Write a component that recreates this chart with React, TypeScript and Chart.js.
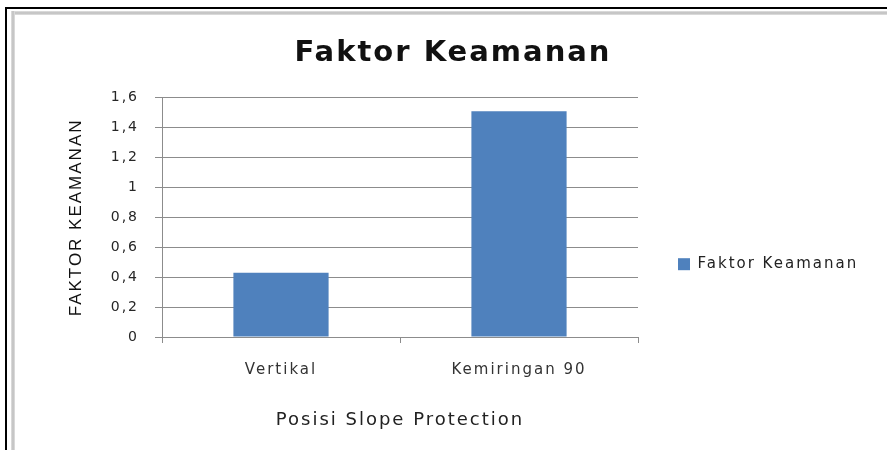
import React, { useEffect, useRef } from 'react';
import { Chart, registerables } from 'chart.js';

Chart.register(...registerables);

const chartTitle = 'Faktor Keamanan';
const seriesName = 'Faktor Keamanan';
const xTitle = 'Posisi Slope Protection';
const yTitle = 'FAKTOR KEAMANAN';
const categories = ['Vertikal', 'Kemiringan 90'];
const faktorKeamanan = [0.43, 1.51];
const yTicks = [0, 0.2, 0.4, 0.6, 0.8, 1, 1.2, 1.4, 1.6];

const SPACING = '2px';
const spacingPlugin = {
  id: 'letterSpacing',
  beforeInit(chart: any) { chart.ctx.letterSpacing = SPACING; },
  beforeUpdate(chart: any) { chart.ctx.letterSpacing = SPACING; },
  beforeLayout(chart: any) { chart.ctx.letterSpacing = SPACING; },
  afterLayout(chart: any) {
    // let the legend text run past the measured box instead of being clipped
    if (chart.legend) chart.legend.right = chart.width;
  },
  beforeDraw(chart: any) { chart.ctx.letterSpacing = SPACING; },
};

const GRID = '#8c8c8c';

export default function App() {
  const ref = useRef<HTMLCanvasElement | null>(null);

  useEffect(() => {
    if (!ref.current) return;
    const chart = new Chart(ref.current, {
      type: 'bar',
      data: {
        labels: categories,
        datasets: [
          {
            label: seriesName,
            data: faktorKeamanan,
            backgroundColor: '#4f81bd',
            borderWidth: 0,
            barPercentage: 0.5,
            categoryPercentage: 0.8,
          },
        ],
      },
      plugins: [spacingPlugin],
      options: {
        responsive: false,
        animation: false,
        layout: { padding: { left: 83, right: 64, top: 0, bottom: 0 } },
        plugins: {
          tooltip: { enabled: false },
          title: {
            display: true,
            text: chartTitle,
            color: '#111',
            font: { family: 'DejaVu Sans', size: 29, weight: 'bold' },
            padding: { top: 36, bottom: 27 },
          },
          legend: {
            display: true,
            position: 'right',
            align: 'center',
            title: { display: true, text: ' ', padding: 32, font: { size: 12 } },
            labels: {
              boxWidth: 12,
              boxHeight: 12,
              padding: 40,
              color: '#222',
              font: { family: 'DejaVu Sans', size: 15 },
            },
          },
        },
        scales: {
          x: {
            grid: { drawOnChartArea: false, drawTicks: true, tickLength: 6, color: GRID },
            border: { display: true, color: GRID },
            ticks: { padding: 18, color: '#333', font: { family: 'DejaVu Sans', size: 15 } },
            title: {
              display: true,
              text: xTitle,
              color: '#222',
              font: { family: 'DejaVu Sans', size: 18 },
              padding: { top: 30, bottom: 19 },
            },
            afterFit: (s: any) => { s.height = 113; },
          },
          y: {
            min: 0,
            max: 1.6,
            afterBuildTicks: (s: any) => { s.ticks = yTicks.map((v) => ({ value: v })); },
            ticks: {
              padding: 16,
              color: '#262626',
              font: { family: 'DejaVu Sans', size: 14 },
              callback: (v: any) => String(Math.round(Number(v) * 10) / 10).replace('.', ','),
            },
            grid: { color: GRID, tickLength: 7 },
            border: { color: GRID },
            title: {
              display: true,
              text: yTitle,
              color: '#111',
              font: { family: 'Liberation Sans', size: 17 },
              padding: { top: -17, bottom: 0 },
            },
            afterFit: (s: any) => { s.width = 79; },
          },
        },
      },
    } as any);
    return () => chart.destroy();
  }, []);

  return (
    <div style={{ position: 'absolute', left: 0, top: 0, width: 887, height: 450, background: '#fff', overflow: 'hidden' }}>
      <canvas ref={ref} width={887} height={450} style={{ display: 'block', width: 887, height: 450 }} />
      <div style={{ position: 'absolute', left: 5, top: 7, width: 882, height: 2, background: '#000' }} />
      <div style={{ position: 'absolute', left: 5, top: 7, width: 2, height: 443, background: '#000' }} />
      <div style={{ position: 'absolute', left: 11, top: 11, width: 876, height: 4, background: 'linear-gradient(#e2e2e2, #bdbdbd, #e2e2e2)' }} />
      <div style={{ position: 'absolute', left: 11, top: 11, width: 4, height: 439, background: 'linear-gradient(90deg, #e2e2e2, #bdbdbd, #e2e2e2)' }} />
    </div>
  );
}
